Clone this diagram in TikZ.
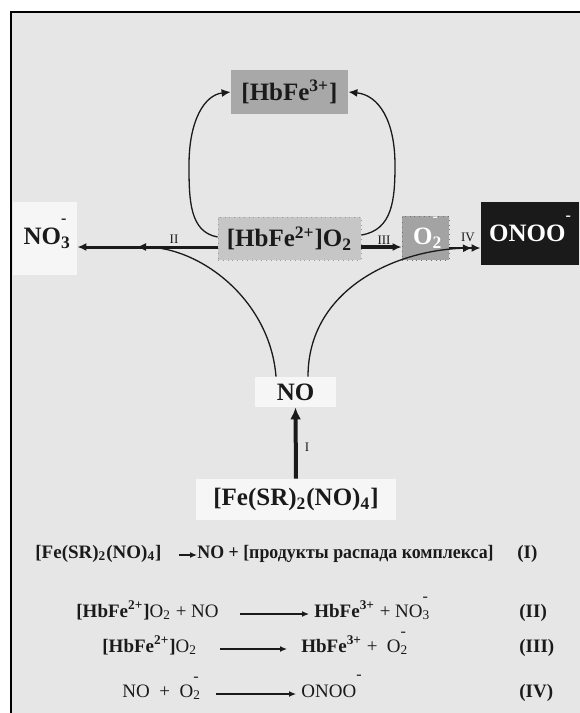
\documentclass[tikz,border=0pt]{standalone}
\usepackage{fontspec}
\setmainfont{Liberation Serif}
\usetikzlibrary{arrows.meta,calc}
\newcommand\upm[1]{\smash{\raisebox{#1}{\footnotesize -}}}
\newcommand\subup[3]{\rlap{\textsubscript{#1}}\upm{#2}\hspace{#3}}
\definecolor{bg}{HTML}{E6E6E6}
\definecolor{ink}{HTML}{1A1A1A}
\definecolor{gtop}{HTML}{A8A8A8}
\definecolor{gmid}{HTML}{C6C6C6}
\definecolor{gotwo}{HTML}{A3A3A3}
\definecolor{pale}{HTML}{F6F6F6}
\begin{document}
\begin{tikzpicture}[x=0.5pt,y=-0.5pt,
  lbl/.style={font=\fontsize{12.5}{14}\selectfont\bfseries, inner sep=0pt, text=ink},
  roman/.style={font=\fontsize{6.5}{7}\selectfont, inner sep=0pt, text=ink},
  eq/.style={font=\fontsize{9.5}{11}\selectfont, inner sep=0pt, text=ink, anchor=base west},
  eqb/.style={eq, font=\fontsize{9.5}{11}\selectfont\bfseries},
  thinc/.style={draw=ink, line width=0.65pt},
  tip/.style={-{Latex[length=4.5pt,width=4pt]}},
  eqarr/.style={draw=ink, line width=0.6pt, -{Latex[length=3.5pt,width=3pt]}}
]
\useasboundingbox (0,0) rectangle (579,713);
\fill[white] (0,0) rectangle (579,713);
\fill[bg] (11,12) rectangle (590,720);
\draw[black, line width=0.6pt] (11,720) -- (11,12) -- (590,12);

% nodes
\node[lbl, fill=gtop, minimum width=58.5pt, minimum height=22pt] (hb3) at (289.5,92) {[HbFe\textsuperscript{3+}]};
\node[lbl, fill=gmid, draw=black!40, dotted, minimum width=71.5pt, minimum height=21.5pt] (hb2) at (289.5,238.5) {[HbFe\textsuperscript{2+}]O\textsubscript{2}};
\node[lbl, fill=gotwo, draw=black!55, dotted, text=white, minimum width=23.5pt, minimum height=22pt] (o2) at (425.5,238) {O\subup{2}{0.9em}{0.3em}};
\node[lbl, fill=ink, text=white, minimum width=49pt, minimum height=31.5pt] (onoo) at (530,233.5) {ONOO\upm{0.85em}};
\node[lbl, fill=pale, minimum width=32pt, minimum height=36.5pt] (no3) at (45,238.5) {NO\subup{3}{0.85em}{0.3em}};
\node[lbl, fill=pale, minimum width=40.5pt, minimum height=15pt] (no) at (295.5,392) {NO};
\node[lbl, fill=pale, minimum width=100pt, minimum height=20.5pt] (fe) at (296,499.5) {[Fe(SR)\textsubscript{2}(NO)\textsubscript{4}]};

% merge points
\coordinate (mII) at (137,247);
\coordinate (mIV) at (472,248);
\coordinate (lp) at (189,165);
\coordinate (rp) at (395,165);

% straight reaction arrows
\draw[draw=ink, line width=1.5pt, tip] ($(hb2.west)+(0,8.5)$) -- ($(no3.east)+(0,8.5)$);
\draw[draw=ink, line width=1.8pt, tip] ($(hb2.east)+(0,8.5)$) -- ($(o2.west)+(0,9)$);
\draw[draw=ink, line width=1.3pt, tip] ($(o2.east)+(0,10)$) -- ($(onoo.west)+(0,14.5)$);
\draw[draw=ink, line width=2pt, -{Latex[length=6pt,width=5.5pt]}] (fe.north) -- (no.south);

% curves from NO
\draw[thinc, tip] ($(no.north)+(-19.5,0)$) .. controls +(-6,-77) and +(63,0) .. (mII);
\draw[thinc, tip] ($(no.north)+(12.5,0)$) .. controls +(0,-87) and +(-77,2) .. (mIV);

% loops to HbFe3+
\draw[thinc, tip] ($(hb2.west)+(0,-1.5)$) .. controls +(-28,-5) and +(0,35) .. (lp) .. controls +(0,-45) and +(-26,3) .. (hb3.west);
\draw[thinc, tip] ($(hb2.east)+(0,-3.5)$) .. controls +(31,-5) and +(0,35) .. (rp) .. controls +(0,-45) and +(30,3) .. (hb3.east);

% roman labels
\node[roman] (lII) at (174,239) {II};
\node[roman] (lIII) at (384,240) {III};
\node[roman] (lIV) at (468,237) {IV};
\node[roman] (lI) at (307,447) {I};

% equations
\node[eqb] (e1a) at (35,558) {[Fe(SR)\textsubscript{2}(NO)\textsubscript{4}]};
\node[eqb] (e1b) at (197,558) {\scalebox{0.94}[1]{NO + [продукты распада комплекса]}};
\node[eqb] (e1c) at (517,558) {(I)};
\draw[eqarr] ($(e1a.base east)+(17,-3)$) -- ($(e1b.base west)+(0,-3)$);

\node[eq] (e2a) at (76,617) {\textbf{[HbFe\textsuperscript{2+}]}O\textsubscript{2} + NO};
\node[eq] (e2b) at (314,617) {\textbf{HbFe\textsuperscript{3+}} + NO\subup{3}{0.8em}{0.2em}};
\node[eqb] (e2c) at (519,617) {(II)};
\draw[eqarr] ($(e2a.base east)+(21,-3)$) -- ($(e2b.base west)+(-5,-3)$);

\node[eq] (e3a) at (102,652) {\textbf{[HbFe\textsuperscript{2+}]}O\textsubscript{2}};
\node[eq] (e3b) at (301,652) {\textbf{HbFe\textsuperscript{3+}} +\enspace O\subup{2}{0.8em}{0.2em}};
\node[eqb] (e3c) at (519,652) {(III)};
\draw[eqarr] ($(e3a.base east)+(23,-3)$) -- ($(e3b.base west)+(-14,-3)$);

\node[eq] (e4a) at (122,697) {NO\enspace+\enspace O\subup{2}{0.8em}{0.2em}};
\node[eq] (e4b) at (301,697) {ONOO\upm{0.9em}};
\node[eqb] (e4c) at (519,697) {(IV)};
\draw[eqarr] ($(e4a.base east)+(17,-3)$) -- ($(e4b.base west)+(-5,-3)$);
\end{tikzpicture}
\end{document}
